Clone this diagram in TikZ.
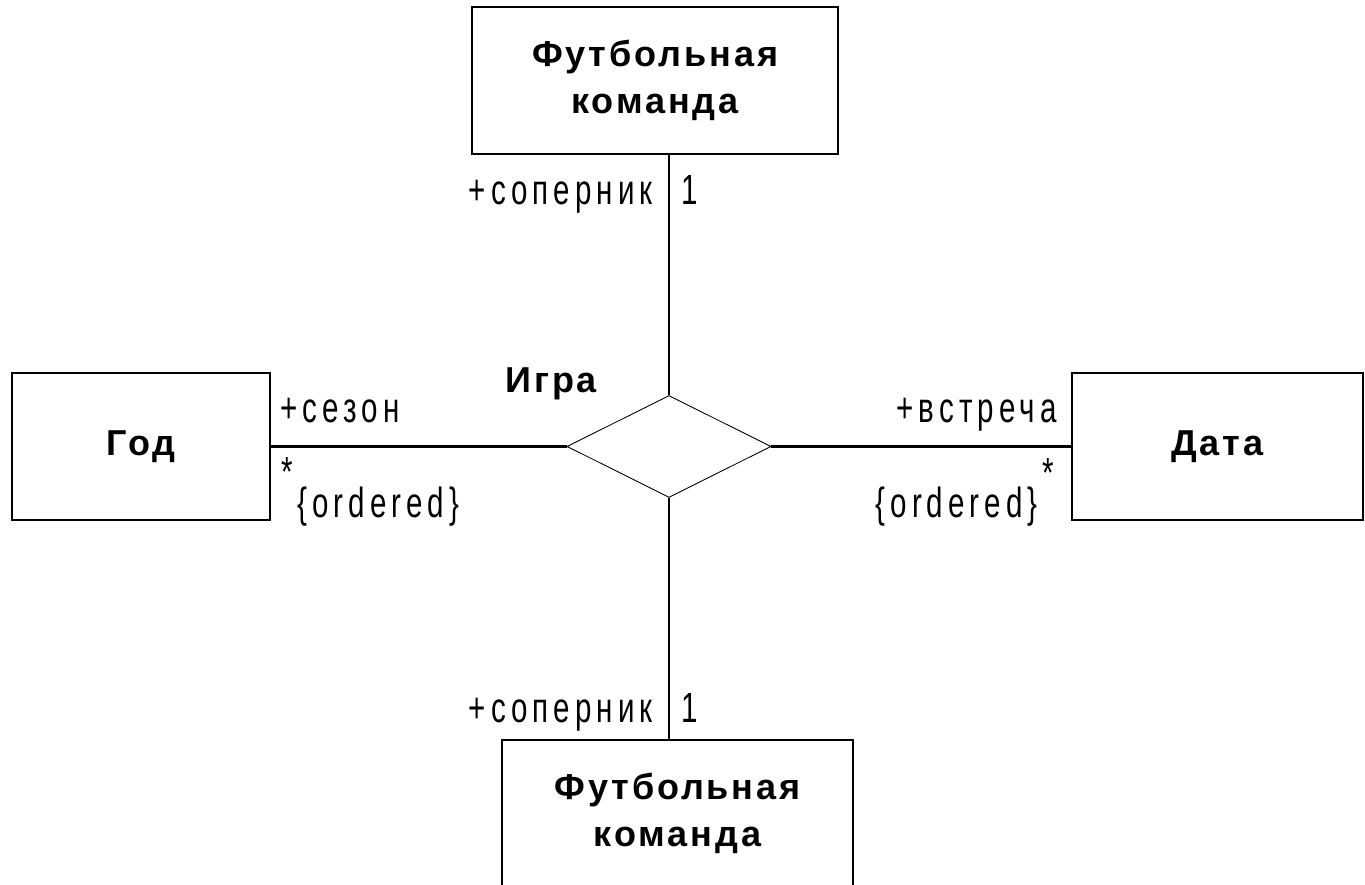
\documentclass[tikz,border=0pt]{standalone}
\usepackage{fontspec}
\setmainfont{Liberation Sans}
\newfontfamily\rolefont[FakeStretch=0.7,LetterSpace=12]{Liberation Sans}
\newfontfamily\namefont[LetterSpace=8]{Liberation Sans}
\usetikzlibrary{shapes.geometric}
\usetikzlibrary{positioning}
\tikzset{classname/.style = {inner sep = 0, align = center, font = \namefont\bfseries\fontsize{20.5}{26.7}\selectfont}}
\tikzset{classbox/.style = {classname, draw, line width = 1.4pt, minimum height = 2.94cm}}
\tikzset{assoc/.style = {line width = 1.5pt}}
\tikzset{role/.style = {inner sep = 0, font = \rolefont\fontsize{24}{28}\selectfont}}

\begin{document}
\begin{tikzpicture}
    \useasboundingbox (0, 0) rectangle (27.3, 17.7);

    \node [classbox, minimum width = 7.32cm] (team1) at (13.10, 16.09) {Футбольная\\команда};
    \node [classbox, minimum width = 7.02cm] (team2) at (13.55, 1.43) {Футбольная\\команда};
    \node [classbox, minimum width = 5.16cm] (year) at (2.82, 8.77) {Год};
    \node [classbox, minimum width = 5.82cm] (date) at (24.35, 8.77) {Дата};
    \node [draw, diamond, line width = 0.5pt, inner sep = 0, minimum width = 4.08cm, minimum height = 2.04cm] (game) at (13.38, 8.77) {};
    \node [classname, anchor = base west] (gamename) at (10.10, 9.84) {Игра};

    \draw [assoc] (team1.south -| game.north) -- (game.north);
    \draw [assoc] (game.south) -- (team2.north -| game.south);
    \draw [assoc] (year.east) -- (game.west);
    \draw [assoc] (game.east) -- (date.west);

    \node [role, anchor = base east] (role1) at (13.06, 13.60) {+соперник};
    \node [role, anchor = base west] (mult1) at (13.62, 13.60) {1};
    \node [role, anchor = base east] (role2) at (13.06, 3.24) {+соперник};
    \node [role, anchor = base west] (mult2) at (13.62, 3.24) {1};
    \node [role, anchor = base west] (role3) at (5.60, 9.24) {+сезон};
    \node [role] (mult3) at (5.74, 8.26) {*};
    \node [role, anchor = base west] (order3) at (5.94, 7.34) {\{ordered\}};
    \node [role, anchor = base east] (role4) at (21.14, 9.24) {+встреча};
    \node [role] (mult4) at (20.96, 8.24) {*};
    \node [role, anchor = base east] (order4) at (20.76, 7.34) {\{ordered\}};
\end{tikzpicture}
\end{document}
